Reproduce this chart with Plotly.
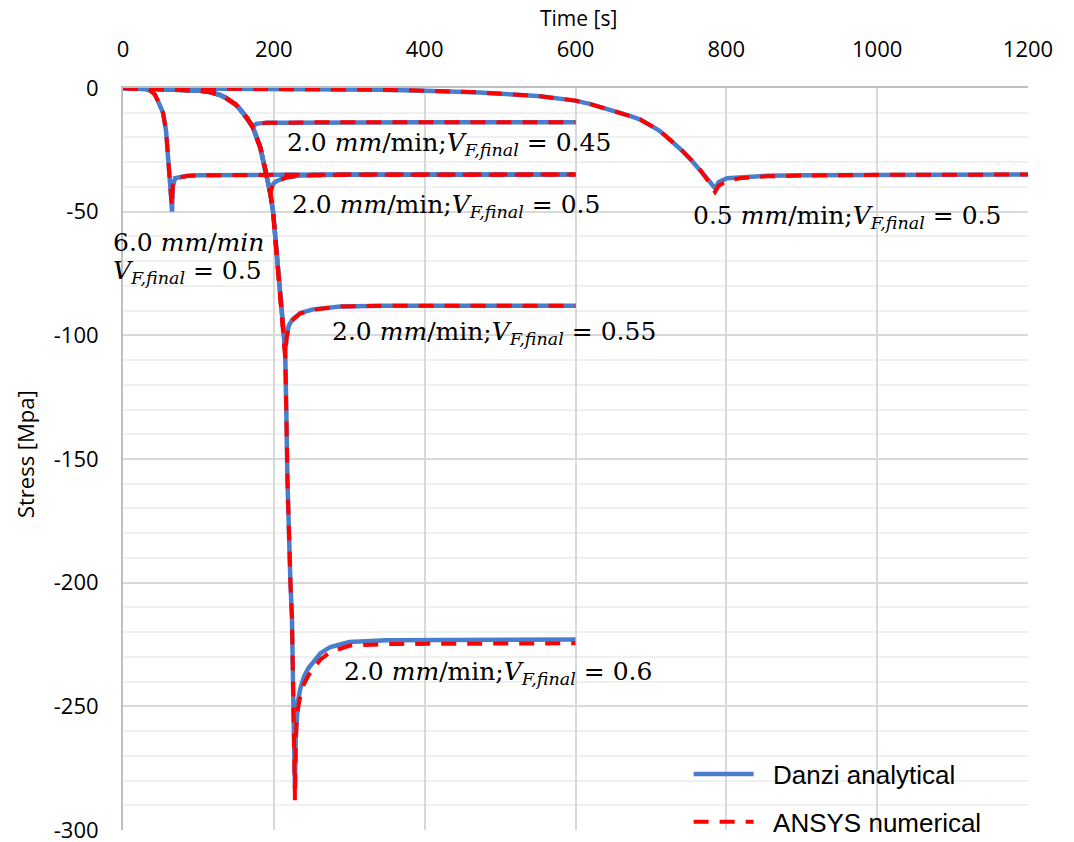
import plotly.graph_objects as go

# ---------------- data ----------------
# 6.0 mm/min, Vf = 0.5
t_60_05 = [0, 20, 30, 36, 42, 46, 50, 53, 57, 60, 62, 64, 65, 66, 69, 75, 85, 100, 120, 200, 300, 600]
s_60_05_danzi = [0, -0.2, -0.5, -1, -2.5, -5, -7.5, -10, -17, -27, -37, -45, -50, -40, -36.5, -36, -35.5, -35.3, -35.2, -35.1, -35, -35]
s_60_05_ansys = [0, -0.2, -0.5, -1, -2.5, -5, -7.5, -10, -17, -27, -37, -45, -48, -39, -36.8, -36.2, -35.6, -35.3, -35.2, -35.1, -35, -35]

# common early part of the 2.0 mm/min curves
t_20_head = [0, 50, 80, 100, 115, 122, 130, 136, 142, 150, 159, 165, 172]
s_20_head = [0, -0.3, -0.6, -1, -1.6, -2.2, -3, -3.9, -5, -6.8, -10, -12.3, -15.7]

# 2.0 mm/min, Vf = 0.45
t_20_045 = t_20_head + [175, 178, 185, 190, 220, 250, 400, 600]
s_20_045_danzi = s_20_head + [-14.8, -14.4, -14.2, -14.1, -14, -13.9, -13.8, -13.8]
s_20_045_ansys = s_20_head[:-1] + [-16, -14.9, -14.5, -14.2, -14.1, -14, -13.9, -13.8, -13.8]

# 2.0 mm/min, Vf = 0.5
t_20_05 = t_20_head + [182, 188, 192, 195, 197, 200, 204, 208, 215, 220, 235, 260, 300, 600]
s_20_05_danzi = s_20_head + [-24, -32, -37, -42, -40, -38.5, -37.6, -37, -36.3, -36, -35.4, -35.2, -35.1, -35]
s_20_05_ansys = s_20_head + [-24, -32, -37, -43, -40.5, -38.8, -37.8, -37.1, -36.4, -36, -35.4, -35.2, -35.1, -35]

# 2.0 mm/min, Vf = 0.55
t_20_055 = t_20_head + [182, 188, 195, 199, 202, 208, 213, 215, 217, 220, 225, 235, 252, 270, 288, 350, 600]
s_20_055_danzi = s_20_head + [-24, -32, -42, -50, -61, -85, -100, -106, -100, -96, -93.5, -91, -89.5, -88.7, -88.3, -88, -88]
s_20_055_ansys = s_20_head + [-24, -32, -42, -50, -61, -85, -100, -109, -101, -96.5, -93.8, -91.2, -89.6, -88.8, -88.3, -88, -88]

# 2.0 mm/min, Vf = 0.6
t_20_06 = t_20_head + [182, 188, 195, 199, 202, 208, 213, 215, 216.5, 218, 222, 224, 226, 228,
                       229, 230, 232, 235, 240, 246, 252, 262, 275, 300, 350, 600]
s_20_06_danzi = s_20_head + [-24, -32, -42, -50, -61, -85, -100, -106, -130, -158, -200, -214, -250, -283,
                             -262, -254, -248, -243, -238, -234.5, -232, -228.5, -226, -224, -223.3, -223]
s_20_06_ansys = s_20_head + [-24, -32, -42, -50, -61, -85, -100, -106, -130, -158, -200, -214, -250, -288,
                             -266, -257, -251, -246, -241, -237.5, -235, -231, -228, -225.5, -224.8, -224.5]

# 0.5 mm/min, Vf = 0.5
t_05_05 = [0, 100, 200, 300, 341, 400, 473, 550, 575, 600, 620, 640, 660, 673, 686, 700, 710, 720, 731, 742, 754, 765, 775, 785,
           790, 801, 820, 854, 900, 1000, 1200]
s_05_05_danzi = [0, -0.1, -0.3, -0.5, -0.7, -1.1, -1.8, -3.2, -4, -5.1, -6.5, -8.2, -10.1, -11.4, -12.8, -15, -17, -19.5, -22.3, -25.5, -29.3, -33, -36.8, -40.5,
                 -38, -36.5, -36, -35.5, -35.3, -35.1, -35]
s_05_05_ansys = [0, -0.1, -0.3, -0.5, -0.7, -1.1, -1.8, -3.2, -4, -5.1, -6.5, -8.2, -10.1, -11.4, -12.8, -15, -17, -19.5, -22.3, -25.5, -29.3, -33, -37.2, -42,
                 -39.5, -37.5, -36.4, -35.7, -35.4, -35.1, -35]

series = [
    (t_60_05, s_60_05_danzi, s_60_05_ansys),
    (t_20_045, s_20_045_danzi, s_20_045_ansys),
    (t_20_05, s_20_05_danzi, s_20_05_ansys),
    (t_20_055, s_20_055_danzi, s_20_055_ansys),
    (t_20_06, s_20_06_danzi, s_20_06_ansys),
    (t_05_05, s_05_05_danzi, s_05_05_ansys),
]

x_ticks = [0, 200, 400, 600, 800, 1000, 1200]
y_ticks = [0, -50, -100, -150, -200, -250, -300]

label_texts = [
    "2.0 <i>mm</i>/min;<i>V</i><sub><i>F,final</i></sub> = 0.45",
    "2.0 <i>mm</i>/min;<i>V</i><sub><i>F,final</i></sub> = 0.5",
    "2.0 <i>mm</i>/min;<i>V</i><sub><i>F,final</i></sub> = 0.55",
    "0.5 <i>mm</i>/min;<i>V</i><sub><i>F,final</i></sub> = 0.5",
    "2.0 <i>mm</i>/min;<i>V</i><sub><i>F,final</i></sub> = 0.6",
]
label_x = [214.8, 221.4, 274.5, 753, 290.4]
label_y = [-22.5, -47.9, -99, -52.3, -236.4]

# the 6.0 mm/min label sits partly left of the axis (x in paper units)
label60_texts = ["6.0 <i>mm</i>/<i>min</i>", "<i>V</i><sub><i>F,final</i></sub> = 0.5"]
label60_x = [-0.0133, -0.0133]
label60_y = [-62.4, -74.5]

# ---------------- figure ----------------
BLUE = "#4a7dcc"
RED = "#ff0000"
LABEL_FONT = dict(family="DejaVu Serif", size=25, color="#000000")

fig = go.Figure()
for i, (t, sd, sa) in enumerate(series):
    fig.add_trace(go.Scatter(x=t, y=sd, mode="lines", name="&nbsp;&nbsp;Danzi analytical",
                             legendgroup="danzi", showlegend=(i == 0),
                             line=dict(color=BLUE, width=4.5)))
for i, (t, sd, sa) in enumerate(series):
    fig.add_trace(go.Scatter(x=t, y=sa, mode="lines", name="&nbsp;&nbsp;ANSYS numerical",
                             legendgroup="ansys", showlegend=(i == 0),
                             line=dict(color=RED, width=4, dash="15px,11px")))

for txt, lx, ly in zip(label_texts, label_x, label_y):
    fig.add_annotation(x=lx, y=ly, xref="x", yref="y", text=txt, showarrow=False,
                       xanchor="left", yanchor="middle", font=LABEL_FONT)
for txt, lx, ly in zip(label60_texts, label60_x, label60_y):
    fig.add_annotation(x=lx, y=ly, xref="paper", yref="y", text=txt, showarrow=False,
                       xanchor="left", yanchor="middle", font=LABEL_FONT)

# axis titles
fig.add_annotation(x=0.503, y=1.094, xref="paper", yref="paper", text="Time [s]", showarrow=False,
                   xanchor="center", yanchor="middle", font=dict(family="Open Sans", size=21, color="#000000"))
fig.add_annotation(x=-0.108, y=0.507, xref="paper", yref="paper", text="Stress [Mpa]", showarrow=False,
                   textangle=-90, xanchor="center", yanchor="middle",
                   font=dict(family="Open Sans", size=22, color="#000000"))

fig.update_layout(
    width=1074, height=858,
    margin=dict(l=123, r=46, t=88, b=21),
    paper_bgcolor="white", plot_bgcolor="white",
    font=dict(family="Open Sans", color="#000000"),
    showlegend=True,
    legend=dict(x=0.625, y=0.107, xanchor="left", yanchor="top",
                bgcolor="rgba(0,0,0,0)", font=dict(family="Liberation Sans", size=26),
                tracegroupgap=11, itemwidth=60),
)
fig.update_xaxes(side="top", range=[0, 1200], tickvals=x_ticks, ticktext=[str(v) for v in x_ticks],
                 showgrid=True, gridcolor="#d9d9d9", gridwidth=2,
                 showline=True, linecolor="#bfbfbf", linewidth=2,
                 zeroline=False, tickfont=dict(size=22), ticks="", ticklabelstandoff=20,
                 automargin=False)
fig.update_yaxes(range=[-300, 0], tickvals=y_ticks, ticktext=[str(v) for v in y_ticks],
                 showgrid=True, gridcolor="#d9d9d9", gridwidth=2,
                 minor=dict(dtick=10, showgrid=True, gridcolor="#f0f0f0", gridwidth=2),
                 showline=True, linecolor="#bfbfbf", linewidth=2,
                 zeroline=False, tickfont=dict(size=22), ticks="", ticklabelstandoff=18,
                 automargin=False)

fig.write_html("out.html", config={"displayModeBar": False},
               post_script="document.body.style.margin='0px';document.body.style.overflow='hidden';")
